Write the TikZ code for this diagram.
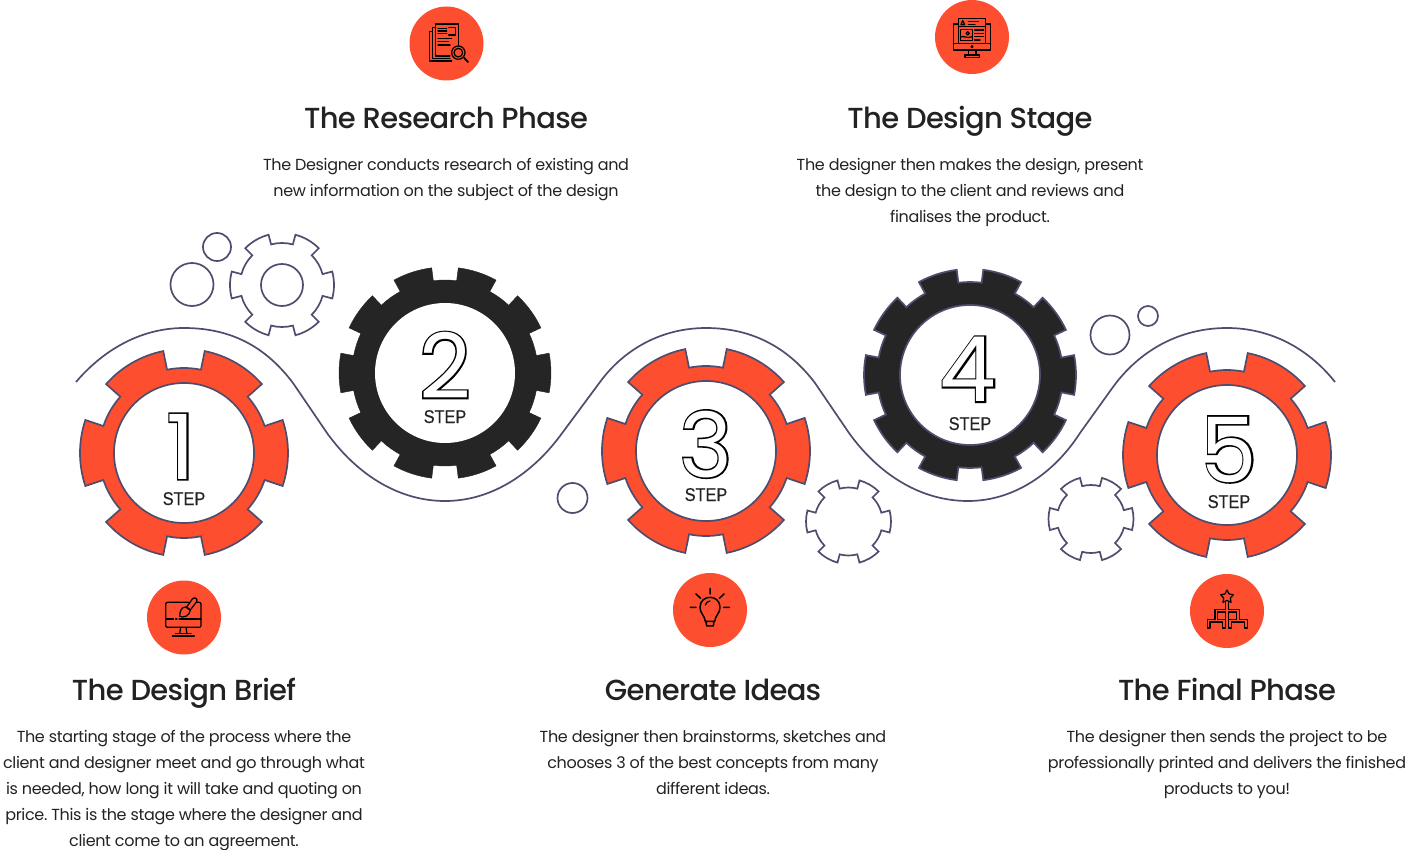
\documentclass[tikz,border=0pt]{standalone}
\usepackage{fontspec}
\setmainfont[LetterSpace=-2.1]{Poppins}
\newfontfamily\headfont[LetterSpace=-2.3]{Poppins Medium}
\newfontfamily\numfont{Poppins}
\newfontfamily\numedge[FakeBold=3.6]{Poppins}
\newfontfamily\stepfont[FakeStretch=0.88,FakeBold=0.4]{Liberation Sans}
\definecolor{gearred}{HTML}{FD4E30}
\definecolor{geardark}{HTML}{252525}
\definecolor{gearline}{HTML}{4F4D6E}
\definecolor{inktext}{HTML}{222222}
\tikzset{
  headtext/.style={font=\headfont\fontsize{29}{34}\selectfont,text=inktext,inner sep=0pt,anchor=base},
  bodytext/.style={font=\frenchspacing\fontsize{16}{26}\selectfont,text=inktext,inner sep=0pt,align=center,anchor=center},
  steptext/.style={font=\stepfont\fontsize{18.5}{20}\selectfont,text=inktext,inner sep=0pt,anchor=base},
  wire/.style={draw=gearline,line width=1.7pt},
  iconline/.style={draw=black,line width=1.25pt,line cap=round,line join=round},
}
\begin{document}
\begin{tikzpicture}[x=1pt,y=-1pt]
    % #1 style, #2 #3 centre, #4 outer, #5 base, #6 teeth, #7 half a tooth in degrees
    \newcommand{\gearBody}[7]{
        \draw[#1,shift={(#2,#3)},x=1pt,y=1pt] (-#7:#4pt)
          \foreach \k [evaluate=\k as \a using (\k-1)*360/#6] in {1,...,#6} {
            arc[start angle=\a-#7,end angle=\a+#7,radius=#4pt]
            -- (\a+#7:#5pt)
            arc[start angle=\a+#7,end angle=\a+360/#6-#7,radius=#5pt]
            -- (\a+360/#6-#7:#4pt)
          } -- cycle;
    }
    \newcommand{\stepMark}[5]{
        \node[inner sep=0pt,anchor=base] (#1num) at (#2,#3) {\fontsize{90}{90}\selectfont\rlap{\numedge\color{black}#1}\numfont\color{white}#1};
        \node[steptext] (#1step) at (#4,#5) {STEP};
    }
    \newcommand{\iconDisc}[2]{
        \fill[gearred] (#1,#2) circle (37);
    }

    \useasboundingbox (0,0) rectangle (1411,850);

    % wave
    \draw[wire] (76,382) .. controls (105,348) and (143,328) .. (184,328)
      .. controls (235,328) and (268,350) .. (293,383) -- (327,433)
      .. controls (358,476) and (400,501) .. (445,501)
      .. controls (493,501) and (533,472) .. (560,436) -- (600,382)
      .. controls (625,348) and (663,328) .. (706,328)
      .. controls (755,328) and (790,350) .. (815,383) -- (849,433)
      .. controls (880,476) and (922,501) .. (968,501)
      .. controls (1015,501) and (1055,472) .. (1080,433) -- (1113,387)
      .. controls (1140,350) and (1180,328) .. (1227,328)
      .. controls (1270,328) and (1308,348) .. (1335,382);

    % bubbles and small gears
    \draw[wire] (217,247) circle (14);
    \draw[wire] (192,284.5) circle (21.5);
    \draw[wire] (572.5,498) circle (15);
    \draw[wire] (1110,335) circle (19.5);
    \draw[wire] (1148,316) circle (10);
    \gearBody{wire,fill=white}{282}{285}{52}{42}{6}{15}
    \draw[wire] (282,285) circle (21);
    \gearBody{wire,fill=white}{848.5}{521.5}{42.5}{34}{6}{15}
    \gearBody{wire,fill=white}{1091}{519}{42.5}{34}{6}{15}

    % big gears
    \gearBody{wire,fill=gearred}{184}{453}{104}{85}{6}{18.5}
    \draw[wire,fill=white] (184,453) circle (70);
    \gearBody{draw=geardark,fill=geardark}{445}{373}{106}{93}{10}{10.8}
    \fill[white] (445,373) circle (70);
    \gearBody{wire,fill=gearred}{706}{451}{104}{85}{6}{18.5}
    \draw[wire,fill=white] (706,451) circle (70);
    \gearBody{wire,fill=geardark}{970}{375}{106}{93}{10}{10.8}
    \draw[wire,fill=white] (970,375) circle (70);
    \gearBody{wire,fill=gearred}{1227}{455}{104}{85}{6}{18.5}
    \draw[wire,fill=white] (1227,455) circle (70);

    \stepMark{1}{181}{479}{184}{505}
    \stepMark{2}{445}{398.5}{445}{423}
    \stepMark{3}{706}{477}{706}{501}
    \stepMark{4}{968}{401.5}{970}{430}
    \stepMark{5}{1229}{482}{1229}{508}

    % icon discs
    \iconDisc{446.5}{43.5}
    \iconDisc{972}{37}
    \iconDisc{184}{617.5}
    \iconDisc{710}{610}
    \iconDisc{1227}{611}

    % research icon
    \begin{scope}[shift={(400,5)},x=0.3333pt,y=-0.3333pt]
      \draw[iconline] (150,153) -- (107,153) -- (107,57) -- (176,57) -- (176,122);
      \draw[iconline] (107,68) -- (97,68) -- (97,160) -- (150,160);
      \draw[iconline] (97,80) -- (88,80) -- (88,168) -- (155,168);
      \draw[iconline] (114,70) -- (140,70) (114,78) -- (140,78) (114,86) -- (140,86);
      \draw[iconline] (146,68) -- (166,68) -- (166,90) -- (146,90);
      \draw[iconline] (114,100) -- (155,100) (114,110) -- (145,110) (114,120) -- (150,120);
      \draw[iconline] (175,143) circle (20);
      \draw[iconline] (175,143) circle (13);
      \draw[iconline,line width=1.8pt] (192,158) -- (204,171);
    \end{scope}

    % monitor icon
    \begin{scope}[shift={(925,0)},x=0.3333pt,y=-0.3333pt]
      \draw[iconline] (98,72) -- (85,72) -- (85,150) -- (197,150) -- (197,72) -- (184,72);
      \draw[iconline] (85,130) -- (99,130) (184,130) -- (197,130);
      \draw[iconline] (130,150) -- (130,165) (153,150) -- (153,165);
      \draw[iconline] (120,165) rectangle (163,172);
      \draw[iconline] (141,140) circle (3);
      \draw[iconline] (100,130) -- (100,55) -- (182,55) -- (182,130) -- cycle;
      \draw[iconline] (100,80) -- (182,80);
      \draw[iconline] (108,74) -- (113,62) -- (119,74) -- cycle;
      \draw[iconline] (130,65) -- (160,65) (130,73) -- (150,73);
      \draw[iconline] (106,88) rectangle (142,122);
      \draw[iconline] (128,100) circle (5);
      \draw[iconline] (106,112) .. controls (116,104) and (124,118) .. (142,110);
      \draw[iconline] (149,90) -- (176,90) (149,100) -- (176,100) (149,110) -- (176,110) (149,120) -- (165,120);
    \end{scope}

    % brush icon
    \begin{scope}[shift={(135,575)},x=0.3333pt,y=-0.3333pt]
      \draw[iconline] (160,82) -- (98,82) .. controls (94,82) and (92,84) .. (92,88) -- (92,151)
        .. controls (92,155) and (94,157) .. (98,157) -- (192,157)
        .. controls (196,157) and (198,155) .. (198,151) -- (198,88)
        .. controls (198,84) and (196,82) .. (192,82) -- (186,82);
      \draw[iconline] (92,132) -- (116,132) (122,132) -- (126,132) (132,132) -- (198,132);
      \draw[iconline] (137,157) -- (134,176) (153,157) -- (156,176);
      \draw[iconline] (122,176) -- (168,176) (112,183) -- (178,183);
      \draw[iconline] (155,96) -- (172,72) .. controls (178,64) and (190,72) .. (185,80) -- (166,105) -- cycle;
      \draw[iconline] (152,96) .. controls (140,96) and (134,108) .. (134,124)
        .. controls (146,130) and (164,122) .. (166,106) -- cycle;
    \end{scope}

    % bulb icon
    \begin{scope}[shift={(660,570)},x=0.3333pt,y=-0.3333pt]
      \draw[iconline,line width=1.5pt] (150,55) -- (150,72) (108,72) -- (122,85) (192,72) -- (178,85) (91,112) -- (108,112) (191,112) -- (208,112);
      \draw[iconline,line width=1.5pt] (136,154) .. controls (134,136) and (120,130) .. (120,112)
        .. controls (120,72) and (180,72) .. (180,112)
        .. controls (180,130) and (166,136) .. (164,154) -- cycle;
      \draw[iconline,line width=1.5pt] (138,154) -- (140,168) -- (160,168) -- (162,154);
      \draw[iconline] (136,105) .. controls (138,97) and (144,94) .. (150,93);
    \end{scope}

    % chart icon
    \begin{scope}[shift={(1180,570)},x=0.3333pt,y=-0.3333pt]
      \draw[iconline] (141,60) -- (147,72) -- (160,74) -- (151,84) -- (153,97) -- (141,91) -- (129,97) -- (131,84) -- (122,74) -- (135,72) -- cycle;
      \draw[iconline] (137,98) -- (137,118) -- (105,118) -- (105,148) -- (82,148) -- (82,174) -- (90,174) -- (90,156) -- (128,156) -- (128,174) -- (136,174) -- (136,148) -- (112,148) -- (112,126) -- (137,126) -- (137,174);
      \draw[iconline] (145,98) -- (145,118) -- (178,118) -- (178,148) -- (202,148) -- (202,174) -- (194,174) -- (194,156) -- (154,156) -- (154,174) -- (146,174) -- (146,148) -- (170,148) -- (170,126) -- (145,126) -- (145,174);
    \end{scope}

    % titles
    \node[headtext] (researchhead) at (446,129) {The Research Phase};
    \node[headtext] (designhead) at (970,129) {The Design Stage};
    \node[headtext] (briefhead) at (184,700) {The Design Brief};
    \node[headtext] (ideashead) at (713,700) {Generate Ideas};
    \node[headtext] (finalhead) at (1227,700) {The Final Phase};

    % descriptions
    \node[bodytext] (researchtext) at (446,180) {The Designer conducts research of existing and\\new information on the subject of the design};
    \node[bodytext] (designtext) at (970,192) {The designer then makes the design, present\\the design to the client and reviews and\\finalises the product.};
    \node[bodytext] (brieftext) at (184,791) {The starting stage of the process where the\\client and designer meet and go through what\\is needed, how long it will take and quoting on\\price. This is the stage where the designer and\\client come to an agreement.};
    \node[bodytext] (ideastext) at (713,762) {The designer then brainstorms, sketches and\\chooses 3 of the best concepts from many\\different ideas.};
    \node[bodytext] (finaltext) at (1227,764) {The designer then sends the project to be\\professionally printed and delivers the finished\\products to you!};
\end{tikzpicture}
\end{document}
